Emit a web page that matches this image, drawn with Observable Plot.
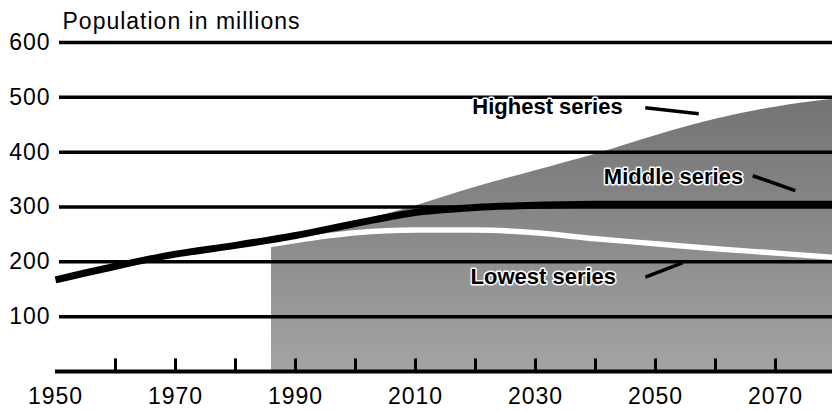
<!DOCTYPE html>
<html>
<head>
<meta charset="utf-8">
<script src="https://cdn.jsdelivr.net/npm/d3@7"></script>
<script src="https://cdn.jsdelivr.net/npm/@observablehq/plot@0.6"></script>
<style>
  html, body { margin: 0; padding: 0; background: #fff; }
  #chart { width: 832px; height: 411px; }
</style>
</head>
<body>
<div id="chart"></div>
<script>
// ---- data ----
const titleText = "Population in millions";
const yTicks = [100, 200, 300, 400, 500, 600];
const xTickLabels = [1950, 1970, 1990, 2010, 2030, 2050, 2070];
const xMinorTicks = [1960, 1970, 1980, 1990, 2000, 2010, 2020, 2030, 2040, 2050, 2060, 2070];

// historical + middle series (one continuous thick line)
const mainYears  = [1950, 1960, 1970, 1980, 1990, 2000, 2010, 2020, 2030, 2040, 2050, 2060, 2070, 2080];
const mainValues = [167,  192,  214,  230,  248,  270,  290,  299,  303,  305,  305,  305,  305,  305];

// highest series (top of the stippled projection band)
const highYears  = [1986, 1990, 2000, 2010, 2020, 2030, 2040, 2050, 2060, 2070, 2080];
const highValues = [241,  248,  272,  302,  336,  366,  396,  430,  460,  482,  497];

// lowest series (white line)
const lowYears  = [1986, 1990, 2000, 2010, 2020, 2030, 2040, 2050, 2060, 2070, 2080];
const lowValues = [232,  239,  253,  258,  258,  253,  242,  233,  224,  216,  208];

// series labels and their pointer lines (data units)
const labelNames = ["Highest series", "Middle series", "Lowest series"];
const labelYears = [2032.0, 2053.0, 2031.3];
const labelVals  = [483, 354, 173];
const ptrX1 = [2048.3, 2066.2, 2048.3];
const ptrY1 = [481, 357, 172];
const ptrX2 = [2057.2, 2073.3, 2054.5];
const ptrY2 = [470, 330, 198];

// ---- build tables ----
const mainData = mainYears.map((x, i) => ({x, y: mainValues[i]}));
const highData = highYears.map((x, i) => ({x, y: highValues[i]}));
const lowData  = lowYears.map((x, i) => ({x, y: lowValues[i]}));
const labels   = labelNames.map((t, i) => ({t, x: labelYears[i], y: labelVals[i]}));
const pointers = ptrX1.map((x1, i) => ({x1, y1: ptrY1[i], x2: ptrX2[i], y2: ptrY2[i]}));

const font = "'Liberation Sans', Arial, Helvetica, sans-serif";

const chart = Plot.plot({
  width: 832,
  height: 411,
  marginLeft: 55,
  marginRight: 0,
  marginTop: 42,
  marginBottom: 40,
  style: {fontFamily: font, fontSize: "23px", color: "#000", background: "#fff", overflow: "visible"},
  x: {domain: [1950, 2079.5]},
  y: {domain: [0, 600]},
  marks: [
    Plot.areaY(highData, {x: "x", y: "y", fill: "url(#stip)", curve: "monotone-x"}),
    Plot.ruleY(yTicks, {stroke: "#000", strokeWidth: 3.5, insetLeft: 4}),
    Plot.ruleY([0], {stroke: "#000", strokeWidth: 4}),
    Plot.ruleX(xMinorTicks, {y1: 0, y2: 23, stroke: "#000", strokeWidth: 3}),
    Plot.line(lowData, {x: "x", y: "y", stroke: "#fff", strokeWidth: 5.5, curve: "monotone-x"}),
    Plot.line(mainData, {x: "x", y: "y", stroke: "#000", strokeWidth: 7, curve: "monotone-x", strokeLinecap: "butt"}),
    Plot.link(pointers, {x1: "x1", y1: "y1", x2: "x2", y2: "y2", stroke: "#000", strokeWidth: 3.5}),
    Plot.text(labels, {x: "x", y: "y", text: "t", fontWeight: "bold", fontSize: 22, fill: "#000",
      stroke: "#fff", strokeWidth: 3, paintOrder: "stroke"}),
    Plot.axisY(yTicks, {tickSize: 0, tickPadding: 5, fontSize: 23, label: null}),
    Plot.axisX(xTickLabels, {tickSize: 0, tickPadding: 16, fontSize: 23, label: null, tickFormat: d => String(d)}),
    Plot.text([titleText], {frameAnchor: "top-left", dx: 7, dy: -14, lineAnchor: "bottom", textAnchor: "start",
      fontSize: 23, fill: "#000", text: d => d})
  ]
});

// stipple-like fill for the projection band
const ns = "http://www.w3.org/2000/svg";
const defs = document.createElementNS(ns, "defs");
defs.innerHTML = `<linearGradient id="stip" x1="0" y1="0" x2="0" y2="1">
  <stop offset="0" stop-color="#747474"/>
  <stop offset="0.5" stop-color="#8a8a8a"/>
  <stop offset="1" stop-color="#a4a4a4"/>
</linearGradient>`;
chart.insertBefore(defs, chart.firstChild);
chart.querySelectorAll("text").forEach(t => {
  t.setAttribute("font-family", font);
  if (t.getAttribute("font-weight") !== "bold" && !t.closest("[font-weight='bold']")) {
    t.setAttribute("letter-spacing", "1");
  }
});
document.getElementById("chart").appendChild(chart);
</script>
</body>
</html>
